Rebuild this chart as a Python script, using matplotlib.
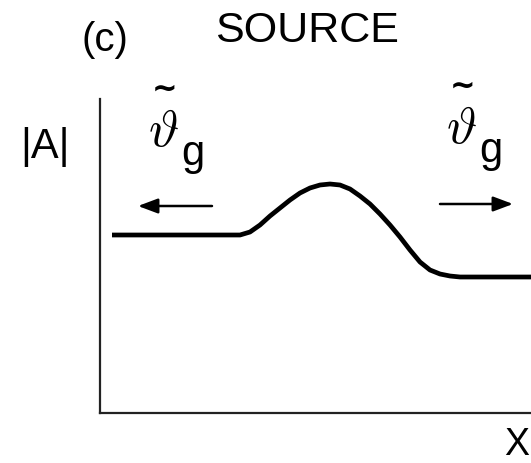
import matplotlib
matplotlib.use("Agg")
import matplotlib.pyplot as plt

plt.rcParams['font.family'] = ['Liberation Sans', 'DejaVu Sans']

# envelope amplitude |A| along x (source region in the middle)
x_pos = [12, 130, 140, 150, 160, 170, 180, 190, 200, 210, 220, 230, 240, 250,
         260, 270, 280, 290, 300, 310, 320, 330, 340, 350, 360, 431]
amp = [178, 178, 178, 181, 188, 197, 205, 213, 220, 225, 228, 229, 228, 224,
       217, 209, 199, 188, 176, 163, 151, 143, 139, 137, 136, 136]

# group velocity arrows: (tail, head, height)
arrow_left = (112, 38, 207)
arrow_right = (340, 413, 209)

W, H = 531, 464
fig = plt.figure(figsize=(W / 100, H / 100), dpi=100)
ax = fig.add_axes([100 / W, 1 - 414 / H, 431 / W, 314 / H])
ax.set_xlim(0, 431)
ax.set_ylim(0, 314)
for side in ['top', 'right']:
    ax.spines[side].set_visible(False)
for side in ['left', 'bottom']:
    ax.spines[side].set_linewidth(1.6)
    ax.spines[side].set_color('#222222')
ax.set_xticks([])
ax.set_yticks([])

ax.plot(x_pos, amp, color='black', lw=3.4, solid_capstyle='butt',
        solid_joinstyle='round')

for tail, head, h in [arrow_left, arrow_right]:
    ax.annotate('', xy=(head, h), xytext=(tail, h),
                arrowprops=dict(arrowstyle='-|>,head_length=1.2,head_width=0.45',
                                color='black', lw=1.8, shrinkA=0, shrinkB=0))


def px(x, y):
    return x / W, 1 - y / H


fig.text(*px(105, 40), '(c)', fontsize=29, ha='center', va='center')
fig.text(*px(307, 31), 'SOURCE', fontsize=31, ha='center', va='center')
fig.text(*px(45, 147), '|A|', fontsize=30, ha='center', va='center')
fig.text(*px(529, 463), 'X', fontsize=27, ha='right', va='bottom')

# tilde-vartheta with g subscript, on both sides
for tx, gx, ty in [(163, 193, 146), (461, 491, 143)]:
    fig.text(*px(tx, ty), r'$\vartheta$', fontsize=37, math_fontfamily='cm',
             ha='center', va='baseline')
    fig.text(*px(tx + 2, ty - 57), '~', fontsize=22, family='DejaVu Sans',
             fontweight='bold', ha='center', va='center')
    fig.text(*px(gx, ty + 19), 'g', fontsize=30, ha='center', va='baseline')

fig.savefig('out.png', dpi=100)
